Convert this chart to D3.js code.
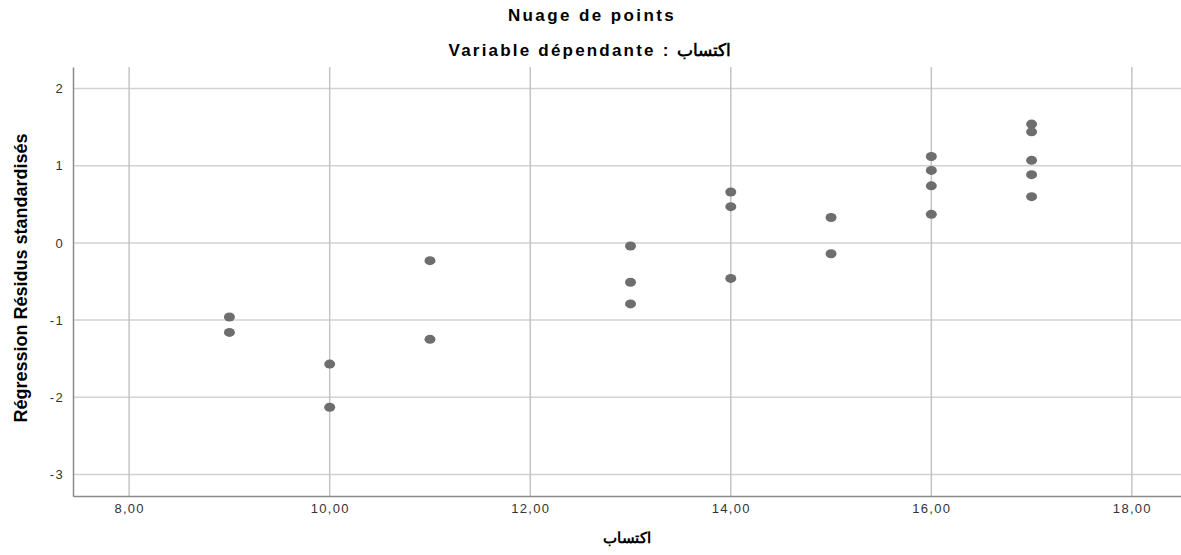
<!DOCTYPE html>
<html>
<head>
<meta charset="utf-8">
<script src="https://cdn.jsdelivr.net/npm/d3@7"></script>
<style>
  body { margin: 0; background: #fff; }
  text { font-family: "Liberation Sans", Arial, sans-serif; fill: #000; }
  .tick text { fill: #333; font-size: 13px; letter-spacing: 1.3px; }
</style>
</head>
<body>
<svg id="chart" width="1181" height="555"></svg>
<script>
// data: x values (اكتساب) and standardized residuals
var xValues = [9, 9, 10, 10, 11, 11, 13, 13, 13, 14, 14, 14, 15, 15, 16, 16, 16, 16, 17, 17, 17, 17, 17];
var residuals = [-0.96, -1.16, -1.57, -2.13, -0.23, -1.25, -0.04, -0.51, -0.79, 0.66, 0.47, -0.46, 0.33, -0.14, 1.12, 0.94, 0.74, 0.37, 1.54, 1.44, 1.07, 0.885, 0.60];
var xTicks = [8, 10, 12, 14, 16, 18];
var yTicks = [-3, -2, -1, 0, 1, 2];
var title = 'Nuage de points';
var subtitle = 'Variable dépendante : اكتساب';
var xLabel = 'اكتساب';
var yLabel = 'Régression Résidus standardisés';

// layout
var margin = {top: 67, right: 0, bottom: 59, left: 73};
var width = 1181 - margin.left - margin.right;
var height = 555 - margin.top - margin.bottom;

var x = d3.scaleLinear().domain([7.44, 18.49]).range([0, width]);
var y = d3.scaleLinear().domain([-3.28, 2.28]).range([height, 0]);

var frFormat = d3.formatLocale({decimal: ',', thousands: ' ', grouping: [3], currency: ['', ''], minus: '-'}).format(',.2f');

var svg = d3.select('#chart');
var g = svg.append('g')
  .attr('transform', 'translate(' + margin.left + ',' + margin.top + ')');

// grid lines
g.append('g').selectAll('line')
  .data(yTicks)
  .enter().append('line')
    .attr('x1', 0).attr('x2', width)
    .attr('y1', function(d) { return y(d); })
    .attr('y2', function(d) { return y(d); })
    .style('stroke', '#d2d2d2')
    .style('stroke-width', 1.5);
g.append('g').selectAll('line')
  .data(xTicks)
  .enter().append('line')
    .attr('y1', 0).attr('y2', height)
    .attr('x1', function(d) { return x(d); })
    .attr('x2', function(d) { return x(d); })
    .style('stroke', '#c4c4c4')
    .style('stroke-width', 1.5);

// axes
var xAxis = g.append('g')
  .attr('transform', 'translate(0,' + height + ')')
  .call(d3.axisBottom(x).tickValues(xTicks).tickFormat(frFormat).tickSize(0).tickPadding(8));
var yAxis = g.append('g')
  .call(d3.axisLeft(y).tickValues(yTicks).tickFormat(function(d) { return String(d); }).tickSize(0).tickPadding(9));
[xAxis, yAxis].forEach(function(a) {
  a.select('.domain').style('stroke', '#8a8a8a').style('stroke-width', 1.5);
});

// points
g.append('g').selectAll('ellipse')
  .data(xValues.map(function(v, i) { return {x: v, y: residuals[i]}; }))
  .enter().append('ellipse')
    .attr('cx', function(d) { return x(d.x); })
    .attr('cy', function(d) { return y(d.y); })
    .attr('rx', 5.5)
    .attr('ry', 4.5)
    .style('fill', '#6e6e6e');

// titles
svg.append('text')
  .attr('x', 592).attr('y', 21)
  .attr('text-anchor', 'middle')
  .style('font-size', '17px').style('font-weight', 'bold').style('letter-spacing', '2.4px')
  .text(title);
svg.append('text')
  .attr('x', 590).attr('y', 56)
  .attr('text-anchor', 'middle')
  .style('font-size', '17px').style('font-weight', 'bold').style('letter-spacing', '2.2px')
  .text(subtitle);

// axis labels
svg.append('text')
  .attr('x', 627).attr('y', 543)
  .attr('text-anchor', 'middle')
  .style('font-size', '15px').style('font-weight', 'bold')
  .text(xLabel);
svg.append('text')
  .attr('transform', 'translate(27,' + 278 + ') rotate(-90)')
  .attr('text-anchor', 'middle')
  .style('font-size', '18px').style('font-weight', 'bold')
  .text(yLabel);
</script>
</body>
</html>
